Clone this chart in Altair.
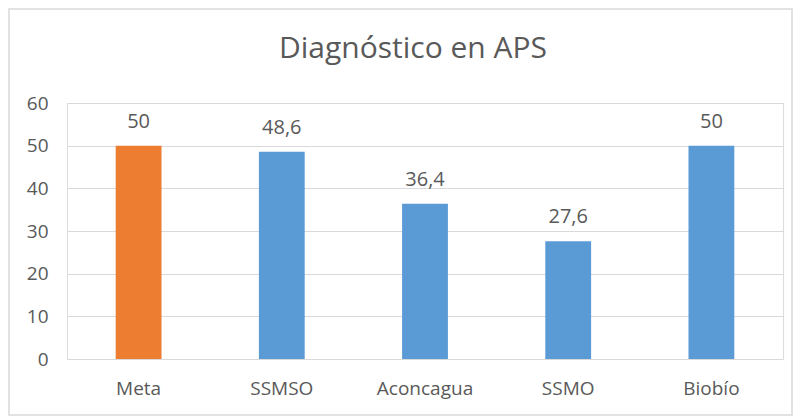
import altair as alt
import pandas as pd

categorias = ["Meta", "SSMSO", "Aconcagua", "SSMO", "Biobío"]
valores = [50, 48.6, 36.4, 27.6, 50]
grupo = ["Meta", "Servicio", "Servicio", "Servicio", "Servicio"]
y_ticks = [0, 10, 20, 30, 40, 50, 60]

df = pd.DataFrame({"categoria": categorias, "valor": valores, "grupo": grupo})

FONT = "Open Sans"
TXT = "#595959"
W, H = 716, 256

base = alt.Chart(df).encode(
    x=alt.X("categoria:N", sort=categorias,
            scale=alt.Scale(paddingInner=0.68, paddingOuter=0.34),
            axis=alt.Axis(title=None, labelAngle=0, domain=False, ticks=False,
                          labelPadding=20, labelFontSize=19, labelColor=TXT,
                          labelFont=FONT, grid=False)),
    y=alt.Y("valor:Q", scale=alt.Scale(domain=[0, 60]),
            axis=alt.Axis(title=None, values=y_ticks, domain=False, ticks=False,
                          labelPadding=19, labelFontSize=19, labelColor=TXT,
                          labelFont=FONT, gridColor="#d9d9d9", gridWidth=1)),
)

bars = base.mark_bar().encode(
    color=alt.Color("grupo:N",
                    scale=alt.Scale(domain=["Meta", "Servicio"], range=["#ED7D31", "#5B9BD5"]),
                    legend=None)
)

labels = base.transform_calculate(
    etiqueta="replace(format(datum.valor, '.1~f'), '.', ',')"
).mark_text(baseline="alphabetic", dy=-18, fontSize=20, font=FONT, color=TXT).encode(
    text="etiqueta:N"
)

frame = alt.Chart(alt.Data(values=[{"a": 1}])).mark_rect(
    fill=None, stroke="#d9d9d9", strokeWidth=1.5
).encode(
    x=alt.value(-58), x2=alt.value(W + 9), y=alt.value(-94), y2=alt.value(312)
)

chart = alt.layer(frame, bars, labels).properties(
    width=W, height=H,
    title=alt.TitleParams("Diagnóstico en APS", fontSize=30, font=FONT, color=TXT,
                          fontWeight="normal", anchor="middle", offset=-56, dx=-12),
    autosize=alt.AutoSizeParams(type="none"),
    padding={"left": 59, "top": 95, "right": 10, "bottom": 60},
).configure_view(stroke=None).configure(background="white")

chart.save("out.html", embed_options={"renderer": "svg", "actions": False})
